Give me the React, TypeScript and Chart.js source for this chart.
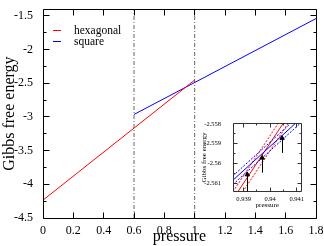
import React, { useEffect, useRef } from "react";
import { Chart, registerables } from "chart.js";
Chart.register(...registerables);

// ---- main chart data ----
const hexPressure = [0, 1.0];
const hexEnergy = [-4.235, -2.452];
const squarePressure = [0.6, 1.8];
const squareEnergy = [-2.963, -1.539];
const markerPressure = [0.6, 1.0];
const xTickValues = [0, 0.2, 0.4, 0.6, 0.8, 1, 1.2, 1.4, 1.6, 1.8];
const yTickValues = [-4.5, -4, -3.5, -3, -2.5, -2, -1.5];
const xRange = [0, 1.8];
const yRange = [-4.5, -1.4];

// ---- inset data ----
const insetPressure = [0.9386, 0.9412];
const insetHexEnergy = [-2.56181, -2.55653];
const insetHexUpper = [-2.56143, -2.55615];
const insetHexLower = [-2.56219, -2.55691];
const insetSquareEnergy = [-2.56085, -2.55767];
const insetSquareUpper = [-2.56063, -2.55745];
const insetSquareLower = [-2.56107, -2.55789];
const pointPressure = [0.93914, 0.9397, 0.94045];
const pointEnergy = [-2.56057, -2.55972, -2.55872];
const pointError = [0.00085, 0.00075, 0.00075];
const insetXTicks = [0.939, 0.94, 0.941];
const insetYTicks = [-2.561, -2.56, -2.559, -2.558];
const insetXRange = [0.9386, 0.94118];
const insetYRange = [-2.5614, -2.558];

const SERIF = "'Liberation Serif', 'Times New Roman', serif";

const zip = (xs: number[], ys: number[]) => xs.map((x, i) => ({ x, y: ys[i] }));
const fmt = (v: any) => String(parseFloat(Number(v).toFixed(6)));
const mids = (arr: number[], lo: number, hi: number) => {
  const out: number[] = [];
  const step = arr[1] - arr[0];
  const all = [arr[0] - step / 2, ...arr.map((v) => v + step / 2)];
  all.forEach((v) => {
    if (v > lo && v < hi) out.push(v);
  });
  return out;
};

function frameTicks(o: {
  xMajor: number[];
  yMajor: number[];
  xMinor: number[];
  yMinor: number[];
  major: number;
  minor: number;
  color: string;
}) {
  return {
    id: "frameTicks",
    afterDatasetsDraw(chart: any) {
      const { ctx, chartArea, scales } = chart;
      const L = Math.floor(chartArea.left) + 0.5;
      const R = Math.floor(chartArea.right) + 0.5;
      const T = Math.floor(chartArea.top) + 0.5;
      const B = Math.floor(chartArea.bottom) + 0.5;
      ctx.save();
      ctx.strokeStyle = o.color;
      ctx.lineWidth = 1;
      ctx.beginPath();
      ctx.rect(L, T, R - L, B - T);
      const vx = (vals: number[], len: number) => {
        vals.forEach((v) => {
          const p = Math.floor(scales.x.getPixelForValue(v)) + 0.5;
          ctx.moveTo(p, B);
          ctx.lineTo(p, B - len);
          ctx.moveTo(p, T);
          ctx.lineTo(p, T + len);
        });
      };
      const vy = (vals: number[], len: number) => {
        vals.forEach((v) => {
          const p = Math.floor(scales.y.getPixelForValue(v)) + 0.5;
          ctx.moveTo(L, p);
          ctx.lineTo(L + len, p);
          ctx.moveTo(R, p);
          ctx.lineTo(R - len, p);
        });
      };
      vx(o.xMajor, o.major);
      vx(o.xMinor, o.minor);
      vy(o.yMajor, o.major);
      vy(o.yMinor, o.minor);
      ctx.stroke();
      ctx.restore();
    },
  };
}

const legendPlugin = {
  id: "customLegend",
  afterDatasetsDraw(chart: any) {
    const { ctx, chartArea } = chart;
    const items = chart.data.datasets.filter((d: any) => d.showInLegend);
    ctx.save();
    ctx.font = `11.5px ${SERIF}`;
    ctx.textBaseline = "middle";
    ctx.fillStyle = "#000";
    items.forEach((d: any, i: number) => {
      const y = Math.floor(chartArea.top + 21.5 + i * 10.5) + 0.5;
      ctx.strokeStyle = d.borderColor;
      ctx.lineWidth = 1;
      ctx.beginPath();
      ctx.moveTo(chartArea.left + 10, y);
      ctx.lineTo(chartArea.left + 18, y);
      ctx.stroke();
      ctx.fillText(d.label, chartArea.left + 31, y);
    });
    ctx.restore();
  },
};

const errorBarPlugin = {
  id: "errorBars",
  afterDatasetsDraw(chart: any) {
    const { ctx, scales } = chart;
    ctx.save();
    ctx.strokeStyle = "#000";
    ctx.lineWidth = 1;
    ctx.beginPath();
    pointPressure.forEach((p, i) => {
      const x = Math.floor(scales.x.getPixelForValue(p)) + 0.5;
      ctx.moveTo(x, scales.y.getPixelForValue(pointEnergy[i]));
      ctx.lineTo(x, scales.y.getPixelForValue(pointEnergy[i] - pointError[i]));
    });
    ctx.stroke();
    ctx.restore();
  },
};

function MainChart() {
  const ref = useRef<HTMLCanvasElement>(null);
  useEffect(() => {
    const vline = (p: number) => ({
      data: [
        { x: p, y: yRange[0] },
        { x: p, y: yRange[1] },
      ],
      borderColor: "#666",
      borderWidth: 1,
      borderDash: [4, 2, 1, 2],
      pointRadius: 0,
    });
    const chart = new Chart(ref.current!, {
      type: "line",
      data: {
        datasets: [
          {
            label: "hexagonal",
            showInLegend: true,
            data: zip(hexPressure, hexEnergy),
            borderColor: "#ff0000",
            borderWidth: 1,
            pointRadius: 0,
          } as any,
          {
            label: "square",
            showInLegend: true,
            data: zip(squarePressure, squareEnergy),
            borderColor: "#0000ff",
            borderWidth: 1,
            pointRadius: 0,
          } as any,
          ...markerPressure.map(vline),
        ],
      },
      options: {
        animation: false,
        responsive: false,
        devicePixelRatio: 1,
        layout: { padding: { top: 1, right: 8, left: 0, bottom: 0 } },
        plugins: { legend: { display: false }, tooltip: { enabled: false } },
        scales: {
          x: {
            type: "linear",
            min: xRange[0],
            max: xRange[1],
            grid: { display: false },
            border: { display: false },
            afterBuildTicks: (s: any) => {
              s.ticks = xTickValues.map((v) => ({ value: v }));
            },
            afterFit: (s: any) => {
              s.height = 28;
            },
            ticks: {
              callback: fmt,
              font: { family: SERIF, size: 12 },
              color: "#000",
              padding: -2,
              maxRotation: 0,
              autoSkip: false,
            },
            title: {
              display: true,
              text: "pressure",
              font: { family: SERIF, size: 16 },
              color: "#000",
              padding: 0,
            },
          },
          y: {
            type: "linear",
            min: yRange[0],
            max: yRange[1],
            grid: { display: false },
            border: { display: false },
            afterBuildTicks: (s: any) => {
              s.ticks = yTickValues.map((v) => ({ value: v }));
            },
            afterFit: (s: any) => {
              s.width = 43;
            },
            ticks: {
              callback: fmt,
              font: { family: SERIF, size: 12 },
              color: "#000",
              padding: 2,
              autoSkip: false,
            },
            title: {
              display: true,
              text: "Gibbs free energy",
              font: { family: SERIF, size: 16 },
              color: "#000",
              padding: 0,
            },
          },
        },
      } as any,
      plugins: [
        frameTicks({
          xMajor: xTickValues,
          yMajor: yTickValues,
          xMinor: [],
          yMinor: mids(yTickValues, yRange[0], yRange[1]),
          major: 6,
          minor: 3,
          color: "#000",
        }),
        legendPlugin,
      ],
    });
    return () => chart.destroy();
  }, []);
  return <canvas ref={ref} width={324} height={246} style={{ position: "absolute", left: 0, top: 0 }} />;
}

function InsetChart() {
  const ref = useRef<HTMLCanvasElement>(null);
  useEffect(() => {
    const line = (ys: number[], color: string, dashed: boolean) => ({
      data: zip(insetPressure, ys),
      borderColor: color,
      borderWidth: 1,
      borderDash: dashed ? [2, 1.5] : [],
      pointRadius: 0,
    });
    const chart = new Chart(ref.current!, {
      type: "line",
      data: {
        datasets: [
          {
            data: zip(pointPressure, pointEnergy),
            showLine: false,
            pointStyle: "triangle",
            pointRadius: 2.5,
            backgroundColor: "#000",
            borderColor: "#000",
            borderWidth: 1,
          } as any,
          line(insetSquareEnergy, "#0000ff", false),
          line(insetSquareUpper, "#0000ff", true),
          line(insetSquareLower, "#0000ff", true),
          line(insetHexEnergy, "#ff0000", false),
          line(insetHexUpper, "#ff0000", true),
          line(insetHexLower, "#ff0000", true),
        ],
      },
      options: {
        animation: false,
        responsive: false,
        devicePixelRatio: 1,
        layout: { padding: { top: 7, right: 6.5, left: 0, bottom: 0 } },
        plugins: { legend: { display: false }, tooltip: { enabled: false } },
        scales: {
          x: {
            type: "linear",
            min: insetXRange[0],
            max: insetXRange[1],
            grid: { display: false },
            border: { display: false },
            afterBuildTicks: (s: any) => {
              s.ticks = insetXTicks.map((v) => ({ value: v }));
            },
            afterFit: (s: any) => {
              s.height = 23;
            },
            ticks: {
              callback: fmt,
              font: { family: SERIF, size: 6.5 },
              color: "#000",
              padding: -4,
              maxRotation: 0,
              autoSkip: false,
            },
            title: {
              display: true,
              text: "pressure",
              font: { family: SERIF, size: 7 },
              color: "#000",
              padding: { top: 0, bottom: 4.5 },
            },
          },
          y: {
            type: "linear",
            min: insetYRange[0],
            max: insetYRange[1],
            grid: { display: false },
            border: { display: false },
            afterBuildTicks: (s: any) => {
              s.ticks = insetYTicks.map((v) => ({ value: v }));
            },
            afterFit: (s: any) => {
              s.width = 37;
            },
            ticks: {
              callback: fmt,
              font: { family: SERIF, size: 6.5 },
              color: "#000",
              padding: 4,
              autoSkip: false,
            },
            title: {
              display: true,
              text: "Gibbs free energy",
              font: { family: SERIF, size: 7 },
              color: "#000",
              padding: { top: 3.5, bottom: 0 },
            },
          },
        },
      } as any,
      plugins: [
        frameTicks({
          xMajor: insetXTicks,
          yMajor: insetYTicks,
          xMinor: mids(insetXTicks, insetXRange[0], insetXRange[1]),
          yMinor: mids(insetYTicks, insetYRange[0], insetYRange[1]),
          major: 4,
          minor: 2,
          color: "#333",
        }),
        errorBarPlugin,
      ],
    });
    return () => chart.destroy();
  }, []);
  return <canvas ref={ref} width={112} height={98} style={{ position: "absolute", left: 196, top: 116 }} />;
}

export default function App() {
  return (
    <div style={{ position: "absolute", left: 0, top: 0, width: 324, height: 246, background: "#fff" }}>
      <MainChart />
      <InsetChart />
    </div>
  );
}
